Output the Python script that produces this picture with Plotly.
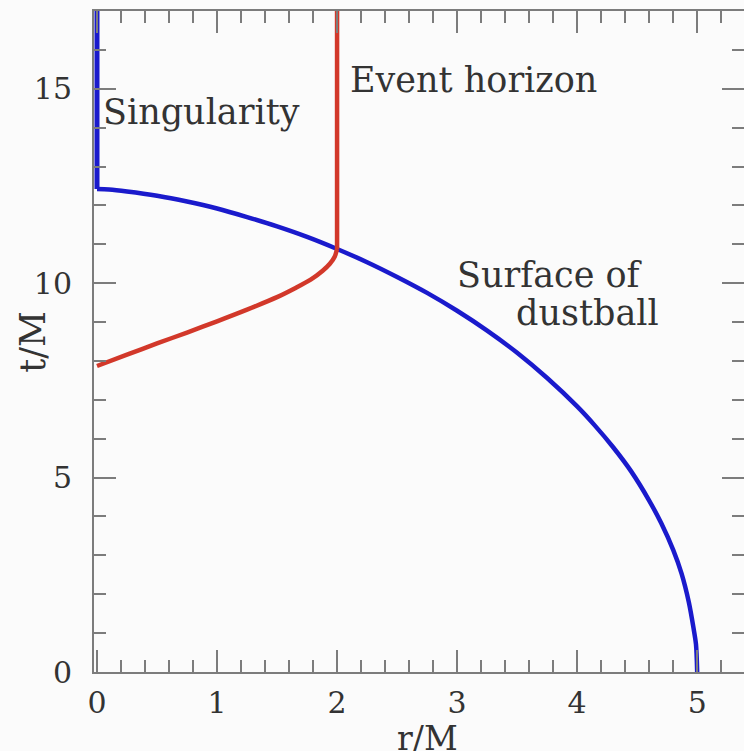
import plotly.graph_objects as go

# Singularity (r = 0)
sing_r = [0.0, 0.0]
sing_t = [12.42, 17.0]

# Surface of dustball (r/M, t/M)
surf_r = [0.0, 0.1, 0.25, 0.5, 0.75, 1.0, 1.25, 1.5, 1.75, 2.0, 2.25, 2.5, 2.75, 3.0,
          3.25, 3.5, 3.75, 4.0, 4.15, 4.3, 4.45, 4.6, 4.7, 4.8, 4.87, 4.93, 4.97, 4.99, 5.0]
surf_t = [12.42, 12.41, 12.36, 12.25, 12.10, 11.92, 11.70, 11.46, 11.19, 10.88, 10.54,
          10.16, 9.75, 9.29, 8.78, 8.21, 7.56, 6.83, 6.33, 5.78, 5.16, 4.41, 3.83, 3.14,
          2.53, 1.80, 1.12, 0.71, 0.0]

# Event horizon: inside the dustball, then r = 2M outside
hor_r = [0.0, 0.25, 0.5, 0.75, 1.0, 1.25, 1.5, 1.65, 1.78, 1.88, 1.94, 1.98, 2.0]
hor_t = [7.87, 8.16, 8.45, 8.73, 9.02, 9.32, 9.64, 9.87, 10.09, 10.32, 10.50, 10.68, 10.88]
hor_out_r = [2.0, 2.0]
hor_out_t = [10.88, 17.0]

x_ticks = [0, 1, 2, 3, 4, 5]
y_ticks = [0, 5, 10, 15]

FONT = "DejaVu Serif"
AX = "#7c7c7c"
TXT = "#333333"
BLUE = "#1a1acc"
RED = "#d2382a"
LW = 4.5

fig = go.Figure()
fig.add_trace(go.Scatter(x=sing_r, y=sing_t, mode="lines",
                         line=dict(color=BLUE, width=5), showlegend=False))
fig.add_trace(go.Scatter(x=surf_r, y=surf_t, mode="lines",
                         line=dict(color=BLUE, width=LW, shape="spline", smoothing=0.8),
                         showlegend=False))
fig.add_trace(go.Scatter(x=hor_r, y=hor_t, mode="lines",
                         line=dict(color=RED, width=LW, shape="spline", smoothing=0.8),
                         showlegend=False))
fig.add_trace(go.Scatter(x=hor_out_r, y=hor_out_t, mode="lines",
                         line=dict(color=RED, width=LW), showlegend=False))
# invisible trace to activate the right-hand tick axis
fig.add_trace(go.Scatter(x=[None], y=[None], yaxis="y2", showlegend=False, hoverinfo="skip"))

minor_x = dict(ticks="inside", dtick=0.2, tick0=0, ticklen=12, tickwidth=1.5, tickcolor=AX)
minor_y = dict(ticks="inside", dtick=1, ticklen=12, tickwidth=1.5, tickcolor=AX)

fig.update_layout(
    width=744, height=751,
    margin=dict(l=94, r=0, t=11, b=79),
    paper_bgcolor="#fbfbfb", plot_bgcolor="#fbfbfb",
    font=dict(family=FONT, color=TXT),
    xaxis=dict(range=[-0.025, 5.39], tickvals=x_ticks, ticks="inside", ticklen=22, tickwidth=1.5,
               tickcolor=AX, showline=True, linecolor=AX, linewidth=2, mirror="ticks",
               minor=minor_x, showgrid=False, zeroline=False,
               tickfont=dict(family=FONT, size=30, color=TXT), ticklabelstandoff=3),
    yaxis=dict(range=[0, 17], tickvals=y_ticks, ticks="inside", ticklen=22, tickwidth=1.5,
               tickcolor=AX, showline=True, linecolor=AX, linewidth=2, mirror=False,
               minor=minor_y, showgrid=False, zeroline=False,
               tickfont=dict(family=FONT, size=30, color=TXT), ticklabelstandoff=14),
    yaxis2=dict(range=[0, 17], overlaying="y", side="right", anchor="x",
                tickvals=y_ticks, ticks="inside", ticklen=22, tickwidth=1.5, tickcolor=AX,
                showline=False, showticklabels=False, minor=minor_y, showgrid=False,
                zeroline=False),
)

ann = dict(showarrow=False, font=dict(family=FONT, size=35, color=TXT))
fig.add_annotation(x=0.03, y=14.4, text="Singularity", xanchor="left", yanchor="middle", **ann)
fig.add_annotation(x=2.09, y=15.23, text="Event horizon", xanchor="left", yanchor="middle", **ann)
fig.add_annotation(x=2.98, y=10.21, text="Surface of", xanchor="left", yanchor="middle", **ann)
fig.add_annotation(x=4.7, y=9.24, text="dustball", xanchor="right", yanchor="middle", **ann)
# axis titles
fig.add_annotation(x=2.75, y=-0.1, xref="x", yref="paper", text="r/M", xanchor="center",
                   yanchor="middle", showarrow=False, font=dict(family=FONT, size=33, color=TXT))
fig.add_annotation(x=-0.095, y=0.5, xref="paper", yref="paper", text="t/M", textangle=-90,
                   xanchor="center", yanchor="middle", showarrow=False,
                   font=dict(family=FONT, size=35, color=TXT))

fig.write_html("out.html")
